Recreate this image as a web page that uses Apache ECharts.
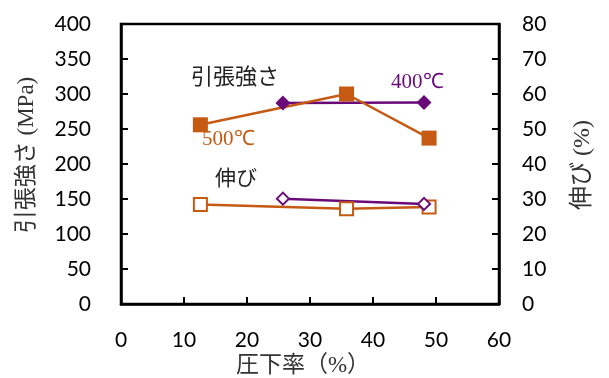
<!DOCTYPE html>
<html>
<head>
<meta charset="utf-8">
<script src="https://cdn.jsdelivr.net/npm/echarts@6/dist/echarts.min.js"></script>
<style>
  html, body { margin: 0; padding: 0; background: #fff; }
  #chart { width: 609px; height: 378px; }
</style>
</head>
<body>
<div id="chart"></div>
<script>
// Reduction ratio (%) and measured properties at two annealing temperatures
const reduction400 = [25.7, 48.1];
const reduction500 = [12.6, 35.8, 48.9];
const tensile400 = [287, 288];           // MPa
const tensile500 = [256, 300, 237];      // MPa
const elong400 = [30.1, 28.6];           // %
const elong500 = [28.4, 27.2, 27.7];     // %

const xTicks = [0, 10, 20, 30, 40, 50, 60];
const leftTicks = [0, 50, 100, 150, 200, 250, 300, 350, 400];
const rightTicks = [0, 10, 20, 30, 40, 50, 60, 70, 80];

const PURPLE = '#690a78';
const ORANGE = '#c65a12';
const tickFont = 'Lato, "Open Sans", sans-serif';
const jpFont = '"Noto Sans CJK JP", sans-serif';
const mixFont = '"Liberation Serif", "Noto Sans CJK JP", serif';

const pairs = (xs, ys) => xs.map((x, i) => [x, ys[i]]);

const axisLine = { show: true, lineStyle: { color: '#000', width: 2.5 } };
const axisTick = { show: true, inside: true, length: 7, lineStyle: { color: '#000', width: 2 } };
const labelStyle = (margin) => ({ color: '#000', fontSize: 21, fontFamily: tickFont, margin });

const chart = echarts.init(document.getElementById('chart'));
chart.setOption({
  animation: false,
  grid: {
    left: 121, right: 110, top: 24, bottom: 74,
    show: true, borderColor: '#000', borderWidth: 2.5, backgroundColor: 'transparent'
  },
  xAxis: {
    type: 'value',
    min: xTicks[0], max: xTicks[xTicks.length - 1], interval: 10,
    splitLine: { show: false },
    axisLine, axisTick,
    axisLabel: labelStyle(26)
  },
  yAxis: [
    {
      type: 'value', position: 'left',
      min: leftTicks[0], max: leftTicks[leftTicks.length - 1], interval: 50,
      splitLine: { show: false },
      axisLine, axisTick,
      axisLabel: labelStyle(30)
    },
    {
      type: 'value', position: 'right',
      min: rightTicks[0], max: rightTicks[rightTicks.length - 1], interval: 10,
      splitLine: { show: false },
      axisLine, axisTick,
      axisLabel: labelStyle(23)
    }
  ],
  series: [
    {
      name: '伸び 500℃', type: 'line', yAxisIndex: 1,
      data: pairs(reduction500, elong500),
      symbol: 'rect', symbolSize: 13,
      lineStyle: { color: ORANGE, width: 2.5 },
      itemStyle: { color: '#fff', borderColor: ORANGE, borderWidth: 2 }
    },
    {
      name: '伸び 400℃', type: 'line', yAxisIndex: 1,
      data: pairs(reduction400, elong400),
      symbol: 'diamond', symbolSize: 12,
      lineStyle: { color: PURPLE, width: 2.5 },
      itemStyle: { color: '#fff', borderColor: PURPLE, borderWidth: 2 }
    },
    {
      name: '引張強さ 400℃', type: 'line', yAxisIndex: 0,
      data: pairs(reduction400, tensile400),
      symbol: 'diamond', symbolSize: 15,
      lineStyle: { color: PURPLE, width: 2.5 },
      itemStyle: { color: PURPLE }
    },
    {
      name: '引張強さ 500℃', type: 'line', yAxisIndex: 0,
      data: pairs(reduction500, tensile500),
      symbol: 'rect', symbolSize: 15,
      lineStyle: { color: ORANGE, width: 2.5 },
      itemStyle: { color: ORANGE }
    }
  ],
  graphic: [
    // axis titles
    { type: 'text', x: 27, y: 155, rotation: Math.PI / 2,
      style: { text: '引張強さ (MPa)', fill: '#333', font: '23px ' + mixFont, align: 'center', verticalAlign: 'middle' } },
    { type: 'text', x: 583, y: 165, rotation: Math.PI / 2,
      style: { text: '伸び (%)', fill: '#333', font: '24px ' + mixFont, align: 'center', verticalAlign: 'middle' } },
    { type: 'text', x: 303, y: 366,
      style: { text: '圧下率（%）', fill: '#333', font: '23px ' + mixFont, align: 'center', verticalAlign: 'middle' } },
    // in-plot annotations
    { type: 'text', x: 191, y: 76,
      style: { text: '引張強さ', fill: '#222', font: '22px ' + jpFont, verticalAlign: 'middle' } },
    { type: 'text', x: 391, y: 82,
      style: { text: '400℃', fill: PURPLE, font: '21px "Liberation Serif", serif', verticalAlign: 'middle' } },
    { type: 'text', x: 202, y: 139,
      style: { text: '500℃', fill: ORANGE, font: '21px "Liberation Serif", serif', verticalAlign: 'middle' } },
    { type: 'text', x: 215, y: 177,
      style: { text: '伸び', fill: '#222', font: '21px ' + jpFont, verticalAlign: 'middle' } }
  ]
});
</script>
</body>
</html>
